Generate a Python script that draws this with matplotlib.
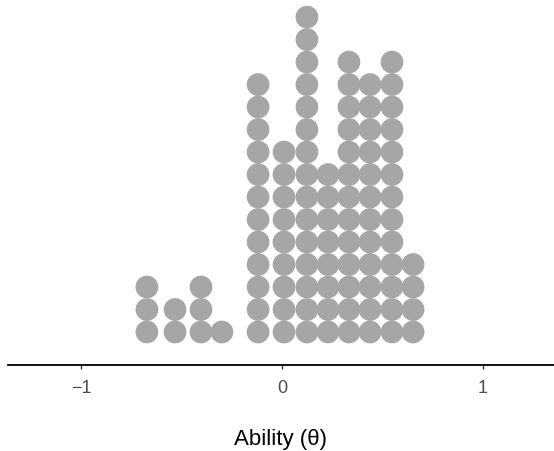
import matplotlib
matplotlib.use("Agg")
import matplotlib.pyplot as plt
import numpy as np

# Bin centres (ability) and number of stacked dots per bin
bin_centers = [-0.672, -0.532, -0.403, -0.299, -0.119, 0.010, 0.124, 0.229, 0.333, 0.438, 0.547, 0.652]
counts = [3, 2, 3, 1, 12, 9, 15, 8, 13, 12, 13, 4]
tick_values = [-1, 0, 1]
tick_labels = ["\u22121", "0", "1"]

plt.rcParams['font.family'] = ['Liberation Sans', 'DejaVu Sans']

fig = plt.figure(figsize=(5.54, 4.51), dpi=100)
ax = fig.add_axes([8/554, 86/451, 546/554, 365/451])

xs, ys = [], []
for c, n in zip(bin_centers, counts):
    for k in range(n):
        xs.append(c)
        ys.append(k + 1)

ax.scatter(xs, ys, s=268, color="#A6A6A6", edgecolors="none", zorder=3)

ax.set_xlim(-1.363, 1.353)
ax.set_ylim(-0.467, 15.76)

for s in ["top", "right", "left"]:
    ax.spines[s].set_visible(False)
ax.spines["bottom"].set_linewidth(1.3)
ax.spines["bottom"].set_color("black")
ax.set_yticks([])
ax.set_xticks(tick_values)
ax.set_xticklabels(tick_labels)
ax.tick_params(axis="x", length=3, width=1, color="#333333", labelsize=13,
               labelcolor="#4D4D4D", pad=7.5)
ax.set_xlabel("Ability (\u03b8)", fontsize=16, labelpad=23.5, color="black")

fig.savefig("out.png", dpi=100)
